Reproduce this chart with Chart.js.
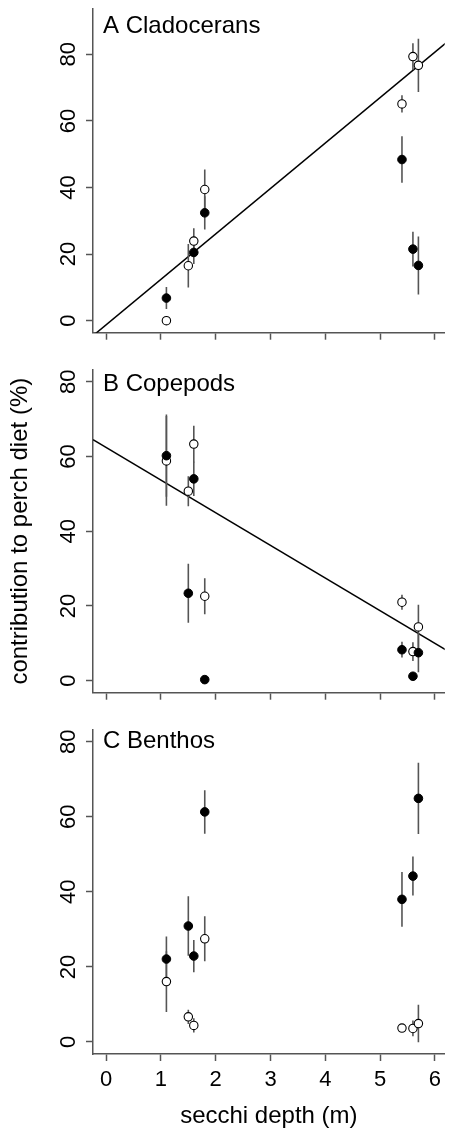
<!DOCTYPE html>
<html>
<head>
<meta charset="utf-8">
<title>perch diet vs secchi depth</title>
<script src="https://cdn.jsdelivr.net/npm/chart.js@4.4.1/dist/chart.umd.min.js"></script>
<style>
  html, body { margin: 0; padding: 0; background: #fff; overflow: hidden; }
  #wrap { position: relative; width: 450px; height: 1131px; }
  canvas { position: absolute; left: 0; }
</style>
</head>
<body>
<div id="wrap">
  <canvas id="panelA" style="top:0px"></canvas>
  <canvas id="panelB" style="top:360px"></canvas>
  <canvas id="panelC" style="top:720px"></canvas>
</div>
<script>
// secchi depth of the lakes (m), same order in every array below
const secchi = [1.1, 1.5, 1.6, 1.8, 5.4, 5.6, 5.7];

// A cladocerans (% of diet) - filled and open symbols, with error half-widths
const cladFilled    = [6.8, null, 20.5, 32.4, 48.4, 21.5, 16.6];
const cladFilledErr = [3.3, null, 3.5, 5.0, 7.0, 5.2, 8.7];
const cladOpen      = [0.0, 16.5, 23.9, 39.4, 65.1, 79.3, 76.7];
const cladOpenErr   = [0, 6.5, 3.9, 6.0, 2.6, 4.0, 8.0];
const cladFitX = [-0.24, 6.24];
const cladFitY = [-4.5, 83.9];

// B copepods
const copeFilled    = [60.2, 23.4, 54.0, 0.3, 8.3, 1.2, 7.5];
const copeFilledErr = [11.0, 7.9, 4.6, 0, 2.1, 0, 5.2];
const copeOpen      = [58.8, 50.7, 63.3, 22.6, 21.0, 7.8, 14.4];
const copeOpenErr   = [12.0, 4.0, 4.9, 4.8, 2.0, 2.5, 5.9];
const copeFitX = [-0.24, 6.24];
const copeFitY = [64.5, 7.9];

// C benthos (no fitted line)
const benthFilled    = [22.1, 30.9, 22.9, 61.3, 38.0, 44.2, 64.9];
const benthFilledErr = [6.0, 7.9, 4.3, 5.8, 7.3, 5.2, 9.5];
const benthOpen      = [16.1, 6.7, 4.4, 27.5, 3.7, 3.6, 4.9];
const benthOpenErr   = [8.1, 1.9, 1.9, 6.0, 0, 2.1, 5.0];

const xTicks = [0, 1, 2, 3, 4, 5, 6];
const yTicks = [0, 20, 40, 60, 80];
const panelNames = ['A Cladocerans', 'B Copepods', 'C Benthos'];

const FONT = "'Liberation Sans', Arial, Helvetica, sans-serif";
const GREY = '#555555';

function pts(means) {
  return secchi.map((x, i) => ({x: x, y: means[i]})).filter(p => p.y != null);
}

// vertical bars, one segment per lake, broken by null points
function errBars(means, errs) {
  const out = [];
  secchi.forEach((x, i) => {
    if (means[i] == null || !errs[i]) return;
    out.push({x: x, y: means[i] - errs[i]}, {x: x, y: means[i] + errs[i]}, {x: x, y: null});
  });
  return out;
}

function fitLine(xs, ys) {
  return xs.map((x, i) => ({x: x, y: ys[i]}));
}

const panelLabel = {
  id: 'panelLabel',
  afterDraw(chart, args, opts) {
    const ctx = chart.ctx;
    ctx.save();
    ctx.font = '24px ' + FONT;
    ctx.fillStyle = '#000';
    ctx.textBaseline = 'alphabetic';
    ctx.textAlign = 'left';
    ctx.fillText(opts.text, opts.x, opts.y);
    ctx.restore();
  }
};

function makePanel(id, o) {
  const cv = document.getElementById(id);
  cv.width = 450;
  cv.height = o.height;
  cv.style.width = '450px';
  cv.style.height = o.height + 'px';

  const datasets = [
    { label: 'filled', data: pts(o.filled), pointRadius: 4.3, pointBackgroundColor: '#000',
      pointBorderColor: '#000', pointBorderWidth: 1, showLine: false },
    { label: 'open', data: pts(o.open), pointRadius: 4.2, pointBackgroundColor: '#fff',
      pointBorderColor: '#000', pointBorderWidth: 1.1, showLine: false },
    { label: 'filledErr', data: errBars(o.filled, o.filledErr), showLine: true, spanGaps: false,
      pointRadius: 0, borderColor: GREY, borderWidth: 1.6 },
    { label: 'openErr', data: errBars(o.open, o.openErr), showLine: true, spanGaps: false,
      pointRadius: 0, borderColor: GREY, borderWidth: 1.6 }
  ];
  if (o.fit) {
    datasets.push({ label: 'fit', data: o.fit, showLine: true, pointRadius: 0,
      borderColor: '#000', borderWidth: 1.5 });
  }

  return new Chart(cv, {
    type: 'scatter',
    data: { datasets: datasets },
    plugins: [panelLabel],
    options: {
      responsive: false,
      animation: false,
      devicePixelRatio: 1,
      layout: { padding: { top: o.padTop, left: 0, right: 0, bottom: 0 } },
      plugins: {
        legend: { display: false },
        tooltip: { enabled: false },
        panelLabel: { text: o.name, x: 103, y: o.nameY }
      },
      scales: {
        x: {
          type: 'linear', min: -0.24, max: 6.18,
          afterBuildTicks: s => { s.ticks = xTicks.map(v => ({value: v})); },
          afterFit: s => { s.height = o.xAxisH; s.paddingLeft = 0; s.paddingRight = 0; },
          border: { display: true, color: GREY, width: 1.5 },
          grid: { drawOnChartArea: false, drawTicks: true, tickLength: 7, tickColor: GREY, tickWidth: 1.5 },
          ticks: { display: o.showX, autoSkip: false, maxRotation: 0, padding: 6,
            color: '#000', font: { family: FONT, size: 22 } },
          title: { display: o.showX, text: 'secchi depth (m)', color: '#000',
            font: { family: FONT, size: 24 }, padding: { top: 0, bottom: 0 } }
        },
        y: {
          type: 'linear', min: o.yMin, max: o.yMax,
          afterBuildTicks: s => { s.ticks = yTicks.map(v => ({value: v})); },
          afterFit: s => { s.width = 93; s.paddingTop = 0; s.paddingBottom = 0; },
          border: { display: true, color: GREY, width: 1.5 },
          grid: { drawOnChartArea: false, drawTicks: true, tickLength: 7, tickColor: GREY, tickWidth: 1.5 },
          ticks: { autoSkip: false, minRotation: 90, maxRotation: 90, crossAlign: 'center', padding: 5,
            color: '#000', font: { family: FONT, size: 22 } },
          title: { display: o.showY, text: 'contribution to perch diet (%)', color: '#000',
            font: { family: FONT, size: 24 }, padding: { top: 6, bottom: 0 } }
        }
      }
    }
  });
}

makePanel('panelA', {
  name: panelNames[0], nameY: 32.7, height: 360, padTop: 9, xAxisH: 27.3,
  yMin: -3.6, yMax: 93.6, showX: false, showY: false,
  filled: cladFilled, filledErr: cladFilledErr, open: cladOpen, openErr: cladOpenErr,
  fit: fitLine(cladFitX, cladFitY)
});
makePanel('panelB', {
  name: panelNames[1], nameY: 30.7, height: 360, padTop: 9.7, xAxisH: 27.3,
  yMin: -3.2, yMax: 83.2, showX: false, showY: true,
  filled: copeFilled, filledErr: copeFilledErr, open: copeOpen, openErr: copeOpenErr,
  fit: fitLine(copeFitX, copeFitY)
});
makePanel('panelC', {
  name: panelNames[2], nameY: 28, height: 411, padTop: 9.7, xAxisH: 77,
  yMin: -3.2, yMax: 83.2, showX: true, showY: false,
  filled: benthFilled, filledErr: benthFilledErr, open: benthOpen, openErr: benthOpenErr
});
</script>
</body>
</html>
